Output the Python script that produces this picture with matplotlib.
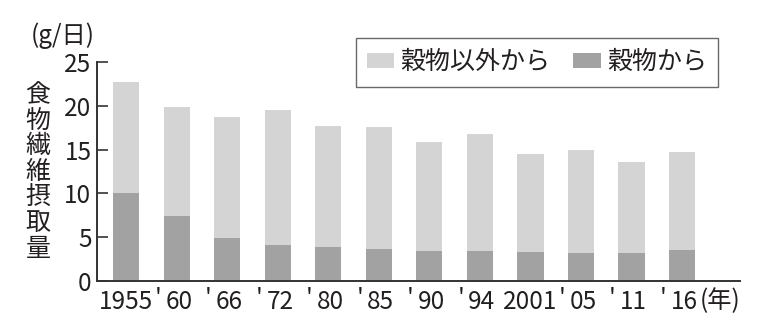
import matplotlib
matplotlib.use("Agg")
import matplotlib.pyplot as plt
import matplotlib.transforms as mtransforms
import numpy as np

plt.rcParams['font.family'] = ['Noto Sans CJK JP', 'DejaVu Sans']

years = ["1955", "'60", "'66", "'72", "'80", "'85", "'90", "'94", "2001", "'05", "'11", "'16"]
total = [22.7, 19.9, 18.7, 19.5, 17.7, 17.6, 15.9, 16.8, 14.5, 15.0, 13.6, 14.7]
grain = [10.0, 7.4, 4.9, 4.1, 3.9, 3.7, 3.4, 3.4, 3.3, 3.2, 3.2, 3.5]
other = [t - g for t, g in zip(total, grain)]

light = '#d4d4d4'
dark = '#a2a2a2'
axc = '#333333'
tc = '#231f20'

fig = plt.figure(figsize=(7.67, 3.31), dpi=100)
ax = fig.add_axes([97/767, 1-281/331, (740-97)/767, (281-62)/331])

x = np.arange(len(years))
w = 0.52
ax.bar(x, grain, width=w, color=dark, label='穀物から')
ax.bar(x, other, width=w, bottom=grain, color=light, label='穀物以外から')

ax.set_ylim(0, 25)
ax.set_xlim(-0.58, 12.15)
ax.set_yticks([0, 5, 10, 15, 20, 25])
ax.tick_params(axis='y', direction='in', length=8, width=1.2, color=axc, labelsize=17.5, pad=4, labelcolor=tc)
ax.set_xticks(x)
ax.set_xticklabels([y.lstrip("'") for y in years], fontsize=17.5, color=tc)
ax.tick_params(axis='x', length=0, pad=6)
shift = mtransforms.ScaledTranslation(2/100, 0, fig.dpi_scale_trans)
for lab in ax.get_xticklabels():
    if len(lab.get_text()) == 2:
        lab.set_transform(lab.get_transform() + shift)

# apostrophes in front of abbreviated years
btrans = mtransforms.blended_transform_factory(ax.transData, ax.transAxes)
aoff = mtransforms.ScaledTranslation(-19/100, 0, fig.dpi_scale_trans)
for i, y in enumerate(years):
    if y.startswith("'"):
        ax.text(i, -0.028, "'", transform=btrans + aoff, fontsize=17.5, color=tc,
                ha='center', va='top')

for s in ['top', 'right']:
    ax.spines[s].set_visible(False)
for s in ['left', 'bottom']:
    ax.spines[s].set_color(axc)
    ax.spines[s].set_linewidth(1.4)

fig.text(31/767, 1-36/331, '(g/日)', fontsize=17.5, ha='left', va='center', color=tc)
fig.text(38/767, 1-172/331, '\n'.join('食物繊維摂取量'), fontsize=18, ha='center', va='center',
         linespacing=0.98, color=tc)
fig.text(700/767, 1-301/331, '(年)', fontsize=17.5, ha='left', va='center', color=tc)

h, l = ax.get_legend_handles_labels()
leg = ax.legend(h[::-1], l[::-1], ncol=2, loc='upper right', bbox_to_anchor=(718/767, 1-38/331),
                bbox_transform=fig.transFigure, borderaxespad=0, fontsize=18, frameon=True, fancybox=False,
                edgecolor='#444444', handlelength=1.1, handleheight=0.6, handletextpad=0.25,
                columnspacing=0.9, borderpad=0.45, labelcolor=tc)
leg.get_frame().set_linewidth(1.0)

fig.savefig('out.png', dpi=100)
